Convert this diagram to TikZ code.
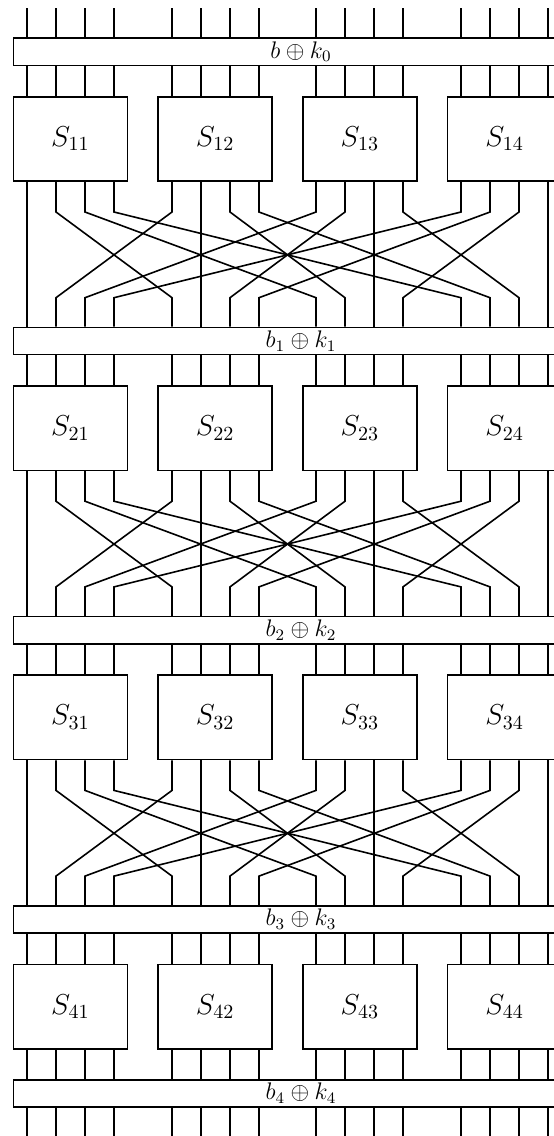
\documentclass[tikz,border=0pt]{standalone}
\begin{document}
\begin{tikzpicture}[x=0.5pt,y=-0.5pt,line width=0.8pt,
  sbox/.style={draw,fill=white,minimum width=57pt,minimum height=42.2pt,inner sep=0pt,font=\Large},
  keybar/.style={draw,fill=white,minimum width=287.7pt,minimum height=13.6pt,inner sep=0pt,font=\large}]
\useasboundingbox (0,0) rectangle (553,1136);
% key bars
\node[keybar] (k0) at (301,51.8)   {$b\oplus k_0$};
\node[keybar] (k1) at (301,341.0)  {$b_1\oplus k_1$};
\node[keybar] (k2) at (301,630.2)  {$b_2\oplus k_2$};
\node[keybar] (k3) at (301,919.4)  {$b_3\oplus k_3$};
\node[keybar] (k4) at (301,1093.4) {$b_4\oplus k_4$};
% S-boxes
\foreach \r in {1,...,4}{
  \foreach \g in {1,...,4}{
    \pgfmathsetmacro\cx{70.4+144.75*(\g-1)}
    \pgfmathsetmacro\cy{138.9+289.2*(\r-1)}
    \node[sbox] (S\r\g) at (\cx,\cy) {$S_{\r\g}$};
  }
}
% input and output wires
\coordinate (top) at (0,8.3);
\coordinate (bot) at (0,1136);
\foreach \g in {0,...,3}{
  \foreach \b in {0,...,3}{
    \pgfmathsetmacro\wx{round(27+28.95*(5*\g+\b))}
    \draw (\wx,0 |- top) -- (\wx,0 |- k0.north);
    \draw (\wx,0 |- k4.south) -- (\wx,0 |- bot);
  }
}
% key bar to S-box wires
\foreach \r in {1,...,4}{
  \pgfmathtruncatemacro\rp{\r-1}
  \foreach \g in {0,...,3}{
    \pgfmathtruncatemacro\gg{\g+1}
    \foreach \b in {0,...,3}{
      \pgfmathsetmacro\wx{round(27+28.95*(5*\g+\b))}
      \draw (\wx,0 |- k\rp.south) -- (\wx,0 |- S\r\gg.north);
    }
  }
}
% permutation layers
\foreach \r in {1,2,3}{
  \pgfmathsetmacro\ya{38.3+289.2*(\r-1)+173.7}
  \pgfmathsetmacro\yb{38.3+289.2*(\r-1)+259.4}
  \foreach \g in {0,...,3}{
    \pgfmathtruncatemacro\gg{\g+1}
    \foreach \b in {0,...,3}{
      \pgfmathsetmacro\wx{round(27+28.95*(5*\g+\b))}
      \pgfmathsetmacro\px{round(27+28.95*(5*\b+\g))}
      \draw (\wx,0 |- S\r\gg.south) -- (\wx,\ya) -- (\px,\yb) -- (\px,0 |- k\r.north);
    }
  }
}
% last round to final key
\foreach \g in {0,...,3}{
  \pgfmathtruncatemacro\gg{\g+1}
  \foreach \b in {0,...,3}{
    \pgfmathsetmacro\wx{round(27+28.95*(5*\g+\b))}
    \draw (\wx,0 |- S4\gg.south) -- (\wx,0 |- k4.north);
  }
}
\end{tikzpicture}
\end{document}
